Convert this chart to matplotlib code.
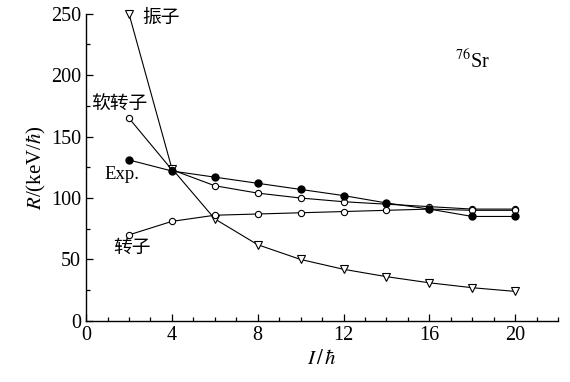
import matplotlib
matplotlib.use("Agg")
import matplotlib.pyplot as plt
from matplotlib.ticker import MultipleLocator

plt.rcParams['font.family'] = ['Liberation Serif', 'Noto Sans CJK SC']
plt.rcParams['mathtext.fontset'] = 'stix'

# data
spin = [2, 4, 6, 8, 10, 12, 14, 16, 18, 20]
r_exp = [131, 122, 117, 112, 107, 102, 96, 91, 85, 85]
r_soft_rotor = [165, 123, 110, 104, 100, 97, 95, 93, 91, 91]
r_rotor = [70, 81, 86, 87, 88, 89, 90, 91, 90, 90]
r_vibrator = [250, 124, 83, 62, 50, 42, 36, 31, 27, 24]

fig = plt.figure(figsize=(5.7, 3.82), dpi=100)
ax = fig.add_axes([0.151, 0.16, 0.828, 0.804])

lw = 0.8
ax.plot(spin, r_vibrator, color='black', lw=lw, marker='v', markersize=6,
        markerfacecolor='white', markeredgecolor='black', markeredgewidth=0.8,
        zorder=3, clip_on=False)
ax.plot(spin, r_soft_rotor, color='black', lw=lw, marker='o', markersize=4.5,
        markerfacecolor='white', markeredgecolor='black', markeredgewidth=0.8, zorder=4)
ax.plot(spin, r_rotor, color='black', lw=lw, marker='o', markersize=4.5,
        markerfacecolor='white', markeredgecolor='black', markeredgewidth=0.8, zorder=4)
ax.plot(spin, r_exp, color='black', lw=lw, marker='o', markersize=5,
        markerfacecolor='black', markeredgecolor='black', zorder=5)

# annotations
ax.text(2.6, 247, '振子', fontsize=13.5, va='center', family=['Noto Sans CJK SC'])
ax.text(0.25, 177, '软转子', fontsize=13.5, va='center', family=['Noto Sans CJK SC'])
ax.text(0.85, 119, 'Exp.', fontsize=13.5, va='center')
ax.text(1.25, 60, '转子', fontsize=13.5, va='center', family=['Noto Sans CJK SC'])
ax.text(17.2, 211, r'$^{76}$Sr', fontsize=14.5, va='center')

ax.set_xlim(0, 22)
ax.set_ylim(0, 250)
ax.xaxis.set_major_locator(MultipleLocator(4))
ax.xaxis.set_minor_locator(MultipleLocator(1))
ax.yaxis.set_major_locator(MultipleLocator(50))
ax.yaxis.set_minor_locator(MultipleLocator(25))
ax.tick_params(which='both', direction='in', labelsize=14.5, width=0.9)
ax.tick_params(which='major', length=5)
ax.tick_params(which='minor', length=3)
ax.spines['top'].set_visible(False)
ax.spines['right'].set_visible(False)
for s in ['left', 'bottom']:
    ax.spines[s].set_linewidth(1.0)

ax.set_xlabel(r'$I\,/\,\hbar$', fontsize=15, labelpad=4)
ax.set_ylabel(r'$R$/(keV/$\hbar$)', fontsize=15, labelpad=2)

fig.savefig('out.png', dpi=100)
